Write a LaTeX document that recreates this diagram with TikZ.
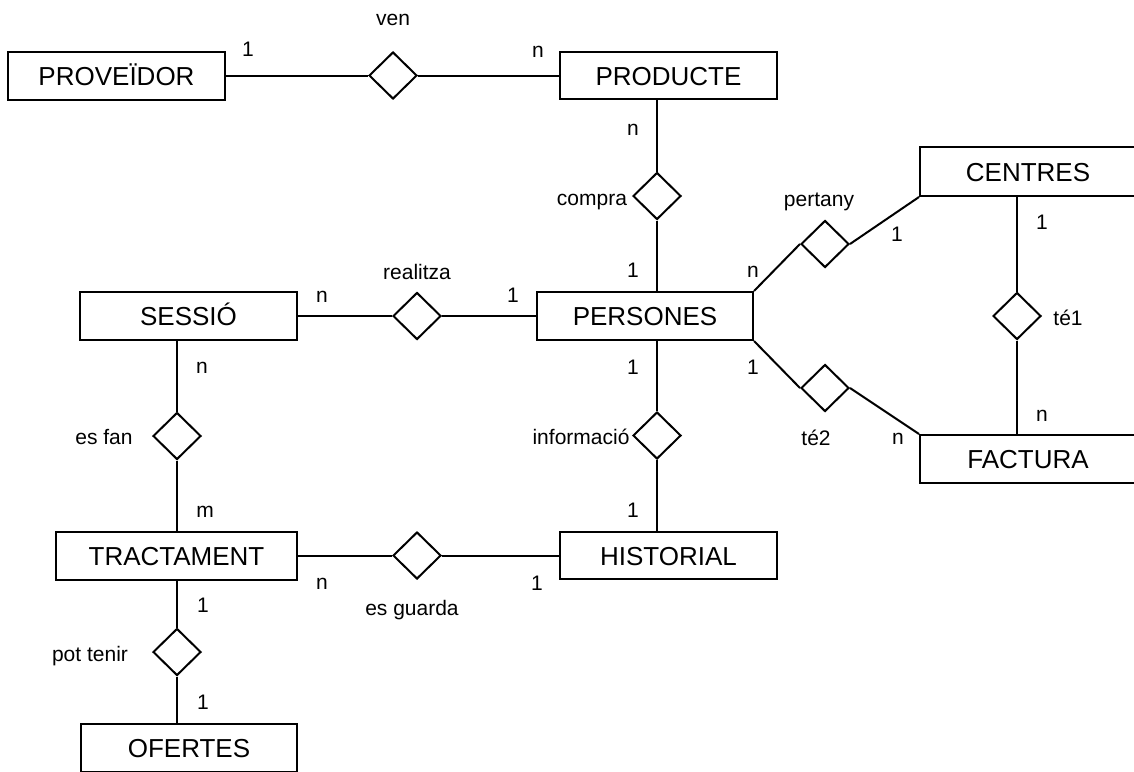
\documentclass[tikz,border=0pt]{standalone}
\usepackage{fontspec}
\setmainfont{Liberation Sans}
\usetikzlibrary{shapes.geometric}

\tikzset{
  entity/.style={draw, line width=2pt, minimum width=217pt, minimum height=48pt,
    inner sep=0pt, text height=19pt, text depth=0pt,
    font=\fontsize{26}{30}\selectfont},
  rel/.style={draw, diamond, line width=2pt, minimum width=48pt, minimum height=47pt,
    inner sep=0pt},
  lbl/.style={inner sep=0pt, text height=15pt, text depth=0pt,
    font=\fontsize{21}{25}\selectfont},
  link/.style={line width=2pt},
}

\begin{document}
\begin{tikzpicture}[x=1pt, y=-1pt]
\clip (0,0) rectangle (1134,771);
\fill[white] (0,0) rectangle (1134,771);

% entities
\node[entity] (prov) at (116.5,75.5) {PROVEÏDOR};
\node[entity, minimum height=47pt] (prod) at (668.5,75.5) {PRODUCTE};
\node[entity, minimum width=216pt] (pers) at (645,316) {PERSONES};
\node[entity] (sess) at (188.5,316) {SESSIÓ};
\node[entity, minimum width=241pt] (tract) at (176.5,555.5) {TRACTAMENT};
\node[entity, minimum height=47pt] (hist) at (668.5,555.5) {HISTORIAL};
\node[entity, minimum width=216pt] (ofer) at (189,748) {OFERTES};
\node[entity, minimum width=216pt, minimum height=49pt] (centres) at (1028,171.5) {CENTRES};
\node[entity, minimum width=216pt] (fact) at (1028,459) {FACTURA};

% relationships
\node[rel] (ven) at (393,75.5) {};
\node[rel] (compra) at (657,196) {};
\node[rel] (realitza) at (417,316) {};
\node[rel] (pertany) at (825,244) {};
\node[rel] (te2) at (825,388) {};
\node[rel] (te1) at (1017,316) {};
\node[rel] (info) at (657,435.5) {};
\node[rel] (esfan) at (177,436) {};
\node[rel] (esguarda) at (417,555.5) {};
\node[rel] (pot) at (177,652) {};

% connectors
\draw[link] (prov.east) -- (ven.west);
\draw[link] (ven.east) -- (prod.west);
\draw[link] (compra.north) -- (compra |- prod.south);
\draw[link] (compra.south) -- (compra |- pers.north);
\draw[link] (sess.east) -- (realitza.west);
\draw[link] (realitza.east) -- (pers.west);
\draw[link] (pers.north east) -- (pertany.west);
\draw[link] (pertany.east) -- (centres.south west);
\draw[link] (pers.south east) -- (te2.west);
\draw[link] (te2.east) -- (fact.north west);
\draw[link] (te1.north) -- (te1 |- centres.south);
\draw[link] (te1.south) -- (te1 |- fact.north);
\draw[link] (info.north) -- (info |- pers.south);
\draw[link] (info.south) -- (info |- hist.north);
\draw[link] (esfan.north) -- (esfan |- sess.south);
\draw[link] (esfan.south) -- (esfan |- tract.north);
\draw[link] (tract.east) -- (esguarda.west);
\draw[link] (esguarda.east) -- (hist.west);
\draw[link] (pot.north) -- (pot |- tract.south);
\draw[link] (pot.south) -- (pot |- ofer.north);

% relationship names
\node[lbl] (lven) at (393,18) {ven};
\node[lbl] (lcompra) at (592,198) {compra};
\node[lbl] (lrealitza) at (417,272) {realitza};
\node[lbl] (lpertany) at (819,199) {pertany};
\node[lbl] (lte1) at (1068,318) {té1};
\node[lbl] (lte2) at (816,438) {té2};
\node[lbl] (linfo) at (581,437) {informació};
\node[lbl] (lesfan) at (104,437) {es fan};
\node[lbl] (lesguarda) at (412,608) {es guarda};
\node[lbl] (lpot) at (90,654) {pot tenir};

% cardinalities
\node[lbl] (c1) at (248,49) {1};
\node[lbl] (c2) at (538,50) {n};
\node[lbl] (c3) at (633,128) {n};
\node[lbl] (c4) at (633,270) {1};
\node[lbl] (c5) at (753,270) {n};
\node[lbl] (c6) at (897,234) {1};
\node[lbl] (c7) at (1042,222) {1};
\node[lbl] (c8) at (1042,414) {n};
\node[lbl] (c9) at (322,295) {n};
\node[lbl] (c10) at (513,295) {1};
\node[lbl] (c11) at (202,366) {n};
\node[lbl] (c12) at (633,367) {1};
\node[lbl] (c13) at (753,367) {1};
\node[lbl] (c14) at (898,437) {n};
\node[lbl] (c15) at (205,510) {m};
\node[lbl] (c16) at (633,510) {1};
\node[lbl] (c17) at (322,582) {n};
\node[lbl] (c18) at (537,583) {1};
\node[lbl] (c19) at (203,605) {1};
\node[lbl] (c20) at (203,702) {1};
\end{tikzpicture}
\end{document}
